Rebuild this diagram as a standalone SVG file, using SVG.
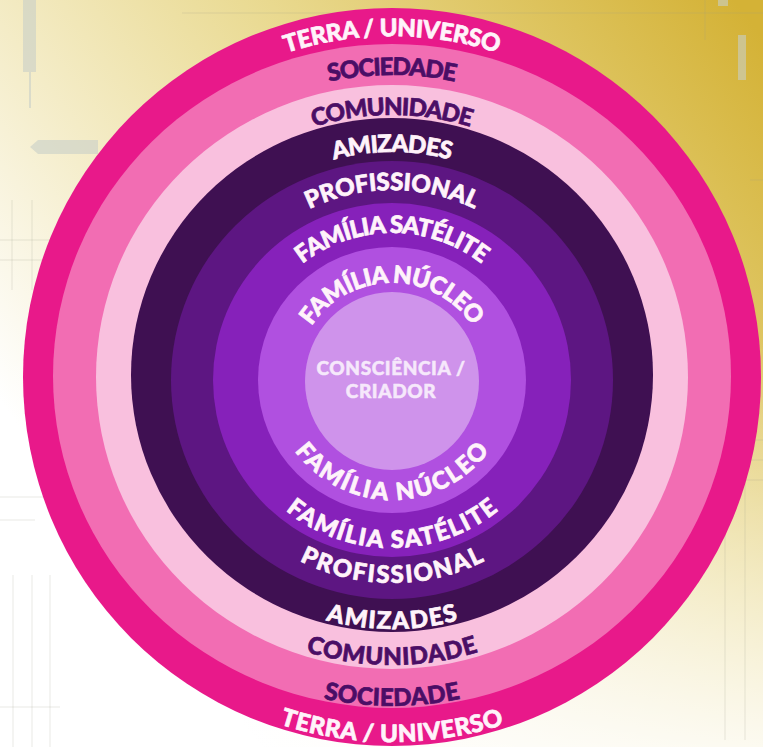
<svg xmlns="http://www.w3.org/2000/svg" xmlns:xlink="http://www.w3.org/1999/xlink" width="763" height="747" viewBox="0 0 763 747">
<defs>
<linearGradient id="bg" x1="1" y1="0.05" x2="0.12" y2="0.7">
<stop offset="0" stop-color="#d4b236"/>
<stop offset="0.45" stop-color="#e9d98f"/>
<stop offset="1" stop-color="#ffffff"/>
</linearGradient>
<linearGradient id="fade" x1="0" y1="0" x2="0" y2="1">
<stop offset="0.45" stop-color="#ffffff" stop-opacity="0"/>
<stop offset="1" stop-color="#ffffff" stop-opacity="0.85"/>
</linearGradient>
<path id="t1" d="M50 378 A342 342 0 0 1 734 378"/>
<path id="t2" d="M89 378 A303 303 0 0 1 695 378"/>
<path id="t3" d="M129 378 A263 263 0 0 1 655 378"/>
<path id="t4" d="M166 378 A226 226 0 0 1 618 378"/>
<path id="t5" d="M204 378 A188 188 0 0 1 580 378"/>
<path id="t6" d="M246 379 A146 146 0 0 1 538 379"/>
<path id="t7" d="M295 380 A97 97 0 0 1 489 380"/>
<path id="b1" d="M28 378 A364 364 0 0 0 756 378"/>
<path id="b2" d="M64 378 A328 328 0 0 0 720 378"/>
<path id="b3" d="M105 378 A287 287 0 0 0 679 378"/>
<path id="b4" d="M141 378 A251 251 0 0 0 643 378"/>
<path id="b5" d="M187 378 A205 205 0 0 0 597 378"/>
<path id="b6" d="M222 378 A170 170 0 0 0 562 378"/>
<path id="b7" d="M271 379 A121 121 0 0 0 513 379"/>
</defs>
<style>
.lbl{font-family:Lato,"Open Sans","DejaVu Sans",sans-serif;font-weight:900;font-size:24px;text-anchor:middle;stroke-width:0.7px;stroke-linejoin:round}
.w{fill:#fff3fa;stroke:#fff3fa}
.p{fill:#4b0e66;stroke:#4b0e66}
.c{font-family:Lato,"Open Sans","DejaVu Sans",sans-serif;font-weight:900;font-size:19px;text-anchor:middle;fill:#f6e8fb;stroke:#f6e8fb;stroke-width:0.5px;letter-spacing:0.6px}
.grid{stroke:#9a9a8a;stroke-opacity:0.22;stroke-width:1;fill:none}
.deco{fill:#c8cfc8;opacity:0.6}
</style>
<g id="background">
<rect width="763" height="747" fill="url(#bg)"/>
<rect width="763" height="747" fill="url(#fade)"/>
<path class="grid" d="M182 13H763M0 240H55M0 260H55M12 200V290M32 200V290M0 497H60M0 520H35M13 575V747M32 575V747M50 575V747M0 707H60M707 440H763M707 460H763M707 480H763M725 440V740M745 440V740M750 180H763M705 0V40"/>
<rect class="deco" x="23" y="0" width="13" height="72"/>
<rect class="deco" x="29" y="72" width="2" height="36"/>
<path class="deco" d="M30 147 L38 140 H98 V154 H38 Z"/>
<rect class="deco" x="738" y="35" width="8" height="45"/>
<rect class="deco" x="718" y="0" width="10" height="6"/>
</g>
<g id="terra-universo">
<circle cx="392" cy="377" r="369" fill="#e8198a"/>
<text class="lbl w"><textPath xlink:href="#t1" href="#t1" startOffset="50%" textLength="215" lengthAdjust="spacing">TERRA / UNIVERSO</textPath></text>
<text class="lbl w"><textPath xlink:href="#b1" href="#b1" startOffset="50%" textLength="228" lengthAdjust="spacing">TERRA / UNIVERSO</textPath></text>
</g>
<g id="sociedade">
<ellipse cx="392" cy="376" rx="339" ry="332" fill="#f26db3"/>
<text class="lbl p"><textPath xlink:href="#t2" href="#t2" startOffset="50%" textLength="127" lengthAdjust="spacing">SOCIEDADE</textPath></text>
<text class="lbl p"><textPath xlink:href="#b2" href="#b2" startOffset="50%" textLength="138" lengthAdjust="spacing">SOCIEDADE</textPath></text>
</g>
<g id="comunidade">
<ellipse cx="392" cy="377" rx="296" ry="292" fill="#f9c0de"/>
<text class="lbl p"><textPath xlink:href="#t3" href="#t3" startOffset="50%" textLength="159" lengthAdjust="spacing">COMUNIDADE</textPath></text>
<text class="lbl p"><textPath xlink:href="#b3" href="#b3" startOffset="50%" textLength="175" lengthAdjust="spacing">COMUNIDADE</textPath></text>
</g>
<g id="amizades">
<ellipse cx="392" cy="375" rx="261" ry="257" fill="#3f1052"/>
<text class="lbl w"><textPath xlink:href="#t4" href="#t4" startOffset="50%" textLength="118" lengthAdjust="spacing">AMIZADES</textPath></text>
<text class="lbl w"><textPath xlink:href="#b4" href="#b4" startOffset="50%" textLength="134" lengthAdjust="spacing">AMIZADES</textPath></text>
</g>
<g id="profissional">
<ellipse cx="392" cy="380" rx="221" ry="219" fill="#5d1682"/>
<text class="lbl w"><textPath xlink:href="#t5" href="#t5" startOffset="50%" textLength="171" lengthAdjust="spacing">PROFISSIONAL</textPath></text>
<text class="lbl w"><textPath xlink:href="#b5" href="#b5" startOffset="50%" textLength="192" lengthAdjust="spacing">PROFISSIONAL</textPath></text>
</g>
<g id="familia-satelite">
<ellipse cx="392" cy="380" rx="179" ry="177" fill="#8621ba"/>
<text class="lbl w"><textPath xlink:href="#t6" href="#t6" startOffset="50%" textLength="193" lengthAdjust="spacing">FAMÍLIA SATÉLITE</textPath></text>
<text class="lbl w"><textPath xlink:href="#b6" href="#b6" startOffset="50%" textLength="230" lengthAdjust="spacing">FAMÍLIA SATÉLITE</textPath></text>
</g>
<g id="familia-nucleo">
<ellipse cx="392" cy="380" rx="134" ry="133" fill="#b050e0"/>
<text class="lbl w"><textPath xlink:href="#t7" href="#t7" startOffset="50%" textLength="190" lengthAdjust="spacing">FAMÍLIA NÚCLEO</textPath></text>
<text class="lbl w"><textPath xlink:href="#b7" href="#b7" startOffset="50%" textLength="226" lengthAdjust="spacing">FAMÍLIA NÚCLEO</textPath></text>
</g>
<g id="consciencia-criador">
<ellipse cx="392" cy="381" rx="87" ry="89" fill="#cf93eb"/>
<text class="c" x="391" y="375">CONSCIÊNCIA /</text>
<text class="c" x="391" y="398">CRIADOR</text>
</g>
<g id="connectors"/>
</svg>
